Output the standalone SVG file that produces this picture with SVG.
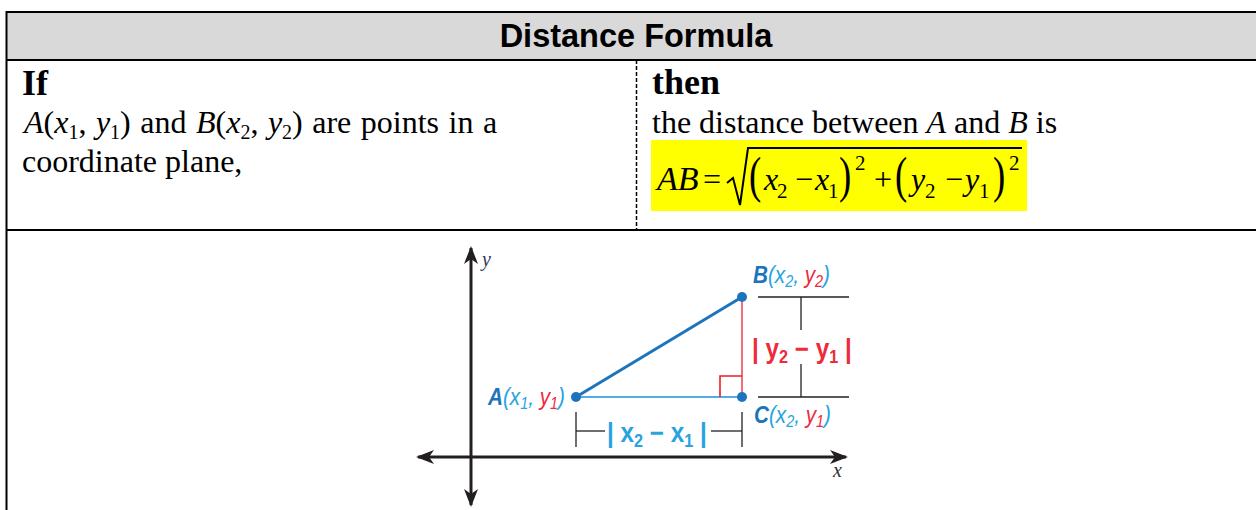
<svg xmlns="http://www.w3.org/2000/svg" width="1256" height="510" viewBox="0 0 1256 510">
<style>
.tl{stroke:#000;stroke-width:2;fill:none}
.serif{font-family:"Liberation Serif","Times New Roman",serif;fill:#000}
.it{font-style:italic}
.lab{font-family:"Liberation Sans",Arial,sans-serif;font-style:italic;font-size:23px}
.dl{font-family:"Liberation Sans",Arial,sans-serif;font-weight:bold;font-size:27px}
.dim{stroke:#231f20;stroke-width:1.3;fill:none}
.axis{stroke:#231f20;stroke-width:3;fill:none}
.dk{fill:#1c75bc}
.lb{fill:#27a4dd}
.rd{fill:#ee2a3b}
</style>
<defs>
<marker id="ah" viewBox="0 0 18 14" refX="16" refY="7" markerWidth="18" markerHeight="14" markerUnits="userSpaceOnUse" orient="auto-start-reverse">
<path d="M0,0 L18,7 L0,14 L5,7 z" fill="#231f20"/>
</marker>
</defs>
<rect width="1256" height="510" fill="#fff"/>
<g id="table">
<rect x="6" y="12" width="1252" height="48" fill="#d9d9d9"/>
<line class="tl" x1="6" y1="12" x2="1256" y2="12"/>
<line class="tl" x1="6" y1="60" x2="1256" y2="60"/>
<line class="tl" x1="6" y1="230" x2="1256" y2="230"/>
<line class="tl" x1="6.5" y1="11" x2="6.5" y2="510"/>
<line x1="636.5" y1="60" x2="636.5" y2="230" stroke="#000" stroke-width="1.5" stroke-dasharray="4,2"/>
</g>
<g id="header">
<text x="636" y="47" text-anchor="middle" font-family="Liberation Sans,Arial,sans-serif" font-weight="bold" font-size="32.5">Distance Formula</text>
</g>
<g id="if-cell">
<text class="serif" x="22" y="95" font-size="36" font-weight="bold">If</text>
<text class="serif" x="24" y="133" font-size="32" word-spacing="1.5"><tspan class="it">A</tspan>(<tspan class="it">x</tspan><tspan font-size="20" dy="6">1</tspan><tspan dy="-6">, </tspan><tspan class="it">y</tspan><tspan font-size="20" dy="6">1</tspan><tspan dy="-6">) and </tspan><tspan class="it">B</tspan>(<tspan class="it">x</tspan><tspan font-size="20" dy="6">2</tspan><tspan dy="-6">, </tspan><tspan class="it">y</tspan><tspan font-size="20" dy="6">2</tspan><tspan dy="-6">) are points in a</tspan></text>
<text class="serif" x="22" y="172" font-size="32">coordinate plane,</text>
</g>
<g id="then-cell">
<text class="serif" x="652" y="94" font-size="36" font-weight="bold">then</text>
<text class="serif" x="652" y="133" font-size="32">the distance between <tspan class="it">A</tspan> and <tspan class="it">B</tspan> is</text>
<rect x="651" y="140" width="376" height="71" fill="#ffff00"/>
<text class="serif it" x="657" y="190" font-size="34">AB</text>
<text class="serif" x="703" y="190" font-size="32">=</text>
<path d="M727,183 L733,178 L740,205 L748,148 L1022,148" stroke="#000" stroke-width="2" fill="none"/>
<text class="serif" font-size="32" transform="translate(749,192) scale(1.15,1.6)">(</text>
<text class="serif it" x="764" y="190" font-size="32">x</text>
<text class="serif" x="777" y="198" font-size="21">2</text>
<text class="serif" x="795" y="190" font-size="32">−</text>
<text class="serif it" x="815" y="190" font-size="32">x</text>
<text class="serif" x="828" y="198" font-size="21">1</text>
<text class="serif" font-size="32" transform="translate(839,192) scale(1.15,1.6)">)</text>
<text class="serif" x="855" y="170" font-size="21">2</text>
<text class="serif" x="874" y="190" font-size="32">+</text>
<text class="serif" font-size="32" transform="translate(895,192) scale(1.15,1.6)">(</text>
<text class="serif it" x="911" y="190" font-size="32">y</text>
<text class="serif" x="925" y="198" font-size="21">2</text>
<text class="serif" x="945" y="190" font-size="32">−</text>
<text class="serif it" x="965" y="190" font-size="32">y</text>
<text class="serif" x="979" y="198" font-size="21">1</text>
<text class="serif" font-size="32" transform="translate(993,192) scale(1.15,1.6)">)</text>
<text class="serif" x="1009" y="170" font-size="21">2</text>
</g>
<g id="axes">
<line class="axis" x1="471" y1="505" x2="471" y2="248" marker-start="url(#ah)" marker-end="url(#ah)"/>
<line class="axis" x1="418" y1="457" x2="846" y2="457" marker-start="url(#ah)" marker-end="url(#ah)"/>
<text x="482" y="266" font-family="Liberation Serif,serif" font-style="italic" font-size="20" fill="#2b3a60">y</text>
<text x="833" y="477" font-family="Liberation Serif,serif" font-style="italic" font-size="20" fill="#333">x</text>
</g>
<g id="connectors">
<line x1="576" y1="397" x2="742" y2="397" stroke="#1f8fd6" stroke-width="1.6"/>
<line x1="742" y1="297" x2="742" y2="397" stroke="#ef4a5b" stroke-width="1.6"/>
<polyline points="720,397 720,376 742,376" stroke="#ed1c24" stroke-width="1.6" fill="none"/>
<line x1="576" y1="397" x2="742" y2="297" stroke="#1c75bc" stroke-width="3"/>
<line class="dim" x1="576" y1="412" x2="576" y2="447"/>
<line class="dim" x1="742" y1="412" x2="742" y2="447"/>
<line class="dim" x1="576" y1="431" x2="605" y2="431"/>
<line class="dim" x1="711" y1="431" x2="742" y2="431"/>
<line class="dim" x1="758" y1="297" x2="849" y2="297"/>
<line class="dim" x1="758" y1="397" x2="849" y2="397"/>
<line class="dim" x1="801" y1="297" x2="801" y2="330"/>
<line class="dim" x1="801" y1="364" x2="801" y2="397"/>
<text class="dl lb" transform="translate(607,442) scale(0.9,1)">| x<tspan font-size="18" dy="5">2</tspan><tspan dy="-5"> − x</tspan><tspan font-size="18" dy="5">1</tspan><tspan dy="-5"> |</tspan></text>
<text class="dl rd" transform="translate(752,358) scale(0.9,1)">| y<tspan font-size="18" dy="5">2</tspan><tspan dy="-5"> − y</tspan><tspan font-size="18" dy="5">1</tspan><tspan dy="-5"> |</tspan></text>
</g>
<g id="point-A">
<circle cx="576" cy="397" r="5" class="dk"/>
<text class="lab" transform="translate(488,405) scale(0.9,1)"><tspan class="dk" font-weight="bold">A</tspan><tspan class="lb">(x</tspan><tspan class="lb" font-size="16" dy="4">1</tspan><tspan class="lb" dy="-4">, </tspan><tspan class="rd">y</tspan><tspan class="rd" font-size="16" dy="4">1</tspan><tspan class="lb" dy="-4">)</tspan></text>
</g>
<g id="point-B">
<circle cx="742" cy="297" r="5" class="dk"/>
<text class="lab" transform="translate(753,283) scale(0.9,1)"><tspan class="dk" font-weight="bold">B</tspan><tspan class="lb">(x</tspan><tspan class="lb" font-size="16" dy="4">2</tspan><tspan class="lb" dy="-4">, </tspan><tspan class="rd">y</tspan><tspan class="rd" font-size="16" dy="4">2</tspan><tspan class="lb" dy="-4">)</tspan></text>
</g>
<g id="point-C">
<circle cx="742" cy="397" r="5" class="dk"/>
<text class="lab" transform="translate(754,423) scale(0.9,1)"><tspan class="dk" font-weight="bold">C</tspan><tspan class="lb">(x</tspan><tspan class="lb" font-size="16" dy="4">2</tspan><tspan class="lb" dy="-4">, </tspan><tspan class="rd">y</tspan><tspan class="rd" font-size="16" dy="4">1</tspan><tspan class="lb" dy="-4">)</tspan></text>
</g>
</svg>
